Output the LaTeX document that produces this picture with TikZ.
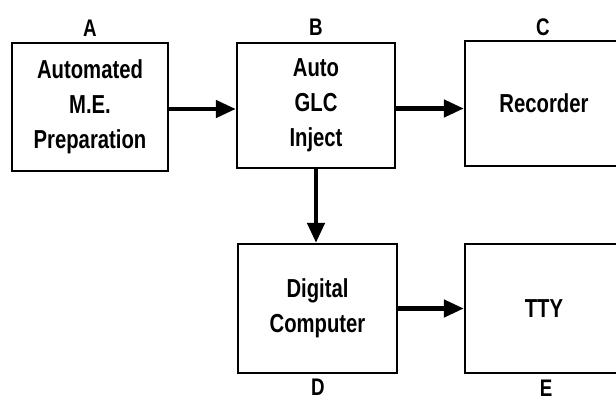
\documentclass[tikz,border=0pt]{standalone}
\usepackage{fontspec}
\setmainfont{Liberation Sans}[FakeStretch=0.78]
\usetikzlibrary{arrows.meta}
\begin{document}
\begin{tikzpicture}[x=1pt,y=-1pt,
  box/.style={draw, line width=2.3pt, align=center, inner sep=0pt,
    font=\bfseries\fontsize{26}{35}\selectfont},
  lab/.style={font=\bfseries\fontsize{24}{28}\selectfont, inner sep=0pt},
  arr/.style={line width=4.5pt, -{Triangle[length=20pt,width=17pt]}}]
\useasboundingbox (0,0) rectangle (616,400);
\clip (0,0) rectangle (616,400);
\node[box, minimum width=156pt, minimum height=128pt] (A) at (90,107) {Automated\\M.E.\\Preparation};
\node[box, minimum width=158pt, minimum height=125pt] (B) at (316,105.5) {Auto\\GLC\\Inject};
\node[box, minimum width=158pt, minimum height=125pt] (C) at (544,103.5) {Recorder};
\node[box, minimum width=159pt, minimum height=129pt] (D) at (317.5,308.5) {Digital\\Computer};
\node[box, minimum width=158pt, minimum height=129pt] (E) at (544,308.5) {TTY};
\node[lab] (la) at (90,28) {A};
\node[lab] (lb) at (316,27) {B};
\node[lab] (lc) at (543,27) {C};
\node[lab] (ld) at (318,387) {D};
\node[lab] (le) at (546,388) {E};
\draw[arr] ([yshift=-2pt]A.east) -- ([yshift=-2pt]A.east -| B.west);
\draw[arr] ([yshift=-3pt]B.east) -- ([yshift=-3pt]B.east -| C.west);
\draw[arr] (B.south) -- (B.south |- D.north);
\draw[arr] (D.east) -- (D.east -| E.west);
\end{tikzpicture}
\end{document}
